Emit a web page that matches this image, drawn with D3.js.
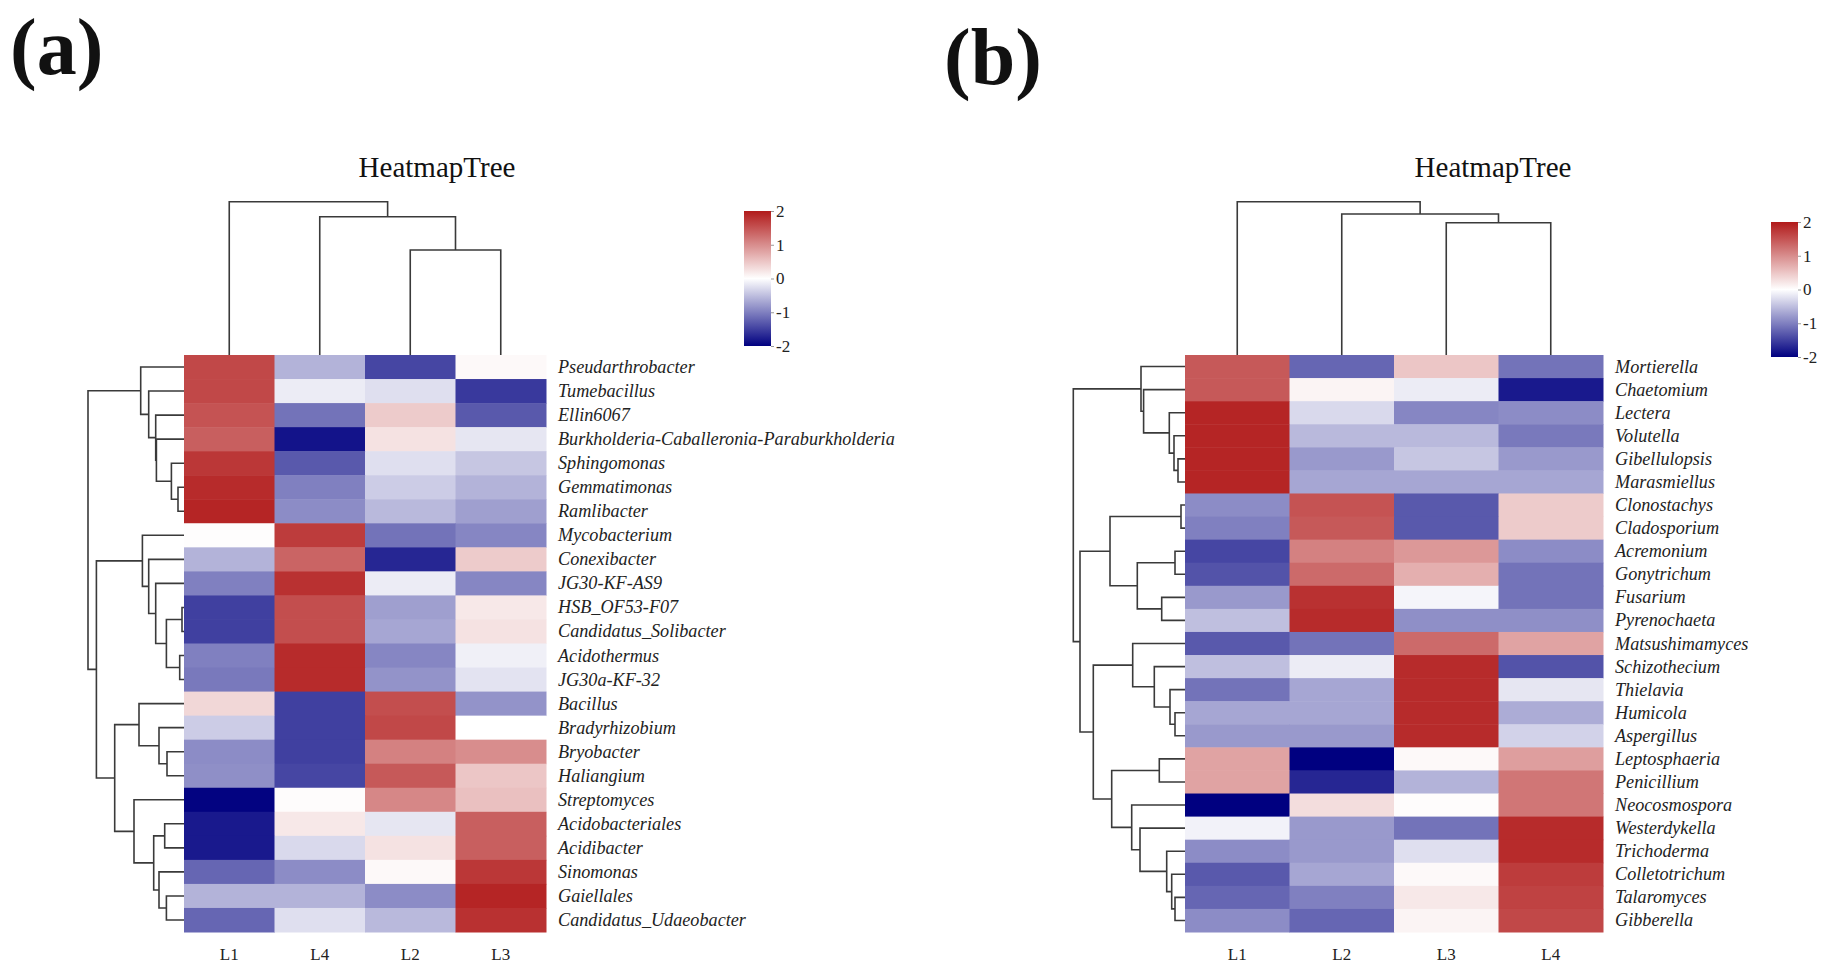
<!DOCTYPE html>
<html>
<head>
<meta charset="utf-8">
<script src="https://cdn.jsdelivr.net/npm/d3@7"></script>
<style>
body { margin: 0; background: #fff; }
text { font-family: "Liberation Serif", "Times New Roman", serif; }
</style>
</head>
<body>
<svg id="chart" width="1831" height="969"></svg>
<script>
// ---- panel (a) bacteria ----
var colsA = ["L1", "L4", "L2", "L3"];
var rowsA = ["Pseudarthrobacter", "Tumebacillus", "Ellin6067", "Burkholderia-Caballeronia-Paraburkholderia",
  "Sphingomonas", "Gemmatimonas", "Ramlibacter", "Mycobacterium", "Conexibacter", "JG30-KF-AS9",
  "HSB_OF53-F07", "Candidatus_Solibacter", "Acidothermus", "JG30a-KF-32", "Bacillus", "Bradyrhizobium",
  "Bryobacter", "Haliangium", "Streptomyces", "Acidobacteriales", "Acidibacter", "Sinomonas",
  "Gaiellales", "Candidatus_Udaeobacter"];
var valuesA = [
  [1.6, -0.6, -1.45, 0.05],
  [1.6, -0.15, -0.25, -1.55],
  [1.5, -1.1, 0.45, -1.3],
  [1.4, -1.85, 0.25, -0.2],
  [1.75, -1.3, -0.25, -0.45],
  [1.85, -1.0, -0.4, -0.6],
  [1.9, -0.9, -0.55, -0.75],
  [0.02, 1.7, -1.1, -0.95],
  [-0.6, 1.35, -1.7, 0.45],
  [-1.0, 1.8, -0.15, -0.95],
  [-1.5, 1.55, -0.75, 0.2],
  [-1.5, 1.55, -0.7, 0.25],
  [-1.0, 1.85, -0.95, -0.12],
  [-1.05, 1.85, -0.85, -0.22],
  [0.35, -1.5, 1.55, -0.85],
  [-0.4, -1.5, 1.6, 0.0],
  [-0.9, -1.5, 1.1, 1.0],
  [-0.88, -1.45, 1.45, 0.5],
  [-1.98, 0.03, 1.05, 0.55],
  [-1.8, 0.2, -0.2, 1.4],
  [-1.8, -0.3, 0.25, 1.4],
  [-1.2, -0.9, 0.05, 1.75],
  [-0.6, -0.6, -0.9, 1.9],
  [-1.2, -0.25, -0.55, 1.8]
];
// trees: [height, left, right], leaves are row / column indexes
var rowTreeA = [9.6,
  [4.33, 0, [3.53, 1, [2.83, 2, [2.76, 3, [1.26, 4, [0.6, 5, 6]]]]]],
  [8.76,
    [4.16, 7, [3.53, 8, [2.83, 9, [1.76, [0.2, 10, 11], [0.43, 12, 13]]]]],
    [6.93,
      [4.5, 14, [2.5, 15, [1.7, 16, 17]]],
      [5.0, 18, [3.03, [1.93, 19, 20], [2.5, 21, [1.76, 22, 23]]]]
    ]
  ]
];
var colTreeA = [15.33, 0, [13.83, 1, [10.5, 2, 3]]];

// ---- panel (b) fungi ----
var colsB = ["L1", "L2", "L3", "L4"];
var rowsB = ["Mortierella", "Chaetomium", "Lectera", "Volutella", "Gibellulopsis", "Marasmiellus",
  "Clonostachys", "Cladosporium", "Acremonium", "Gonytrichum", "Fusarium", "Pyrenochaeta",
  "Matsushimamyces", "Schizothecium", "Thielavia", "Humicola", "Aspergillus", "Leptosphaeria",
  "Penicillium", "Neocosmospora", "Westerdykella", "Trichoderma", "Colletotrichum", "Talaromyces",
  "Gibberella"];
var valuesB = [
  [1.45, -1.2, 0.5, -1.1],
  [1.45, 0.1, -0.15, -1.8],
  [1.9, -0.3, -0.95, -0.9],
  [1.9, -0.55, -0.55, -1.05],
  [1.9, -0.8, -0.45, -0.8],
  [1.9, -0.7, -0.7, -0.7],
  [-0.9, 1.5, -1.3, 0.45],
  [-1.0, 1.45, -1.3, 0.45],
  [-1.45, 1.1, 0.9, -0.9],
  [-1.35, 1.3, 0.7, -1.1],
  [-0.8, 1.8, -0.08, -1.1],
  [-0.5, 1.85, -0.88, -0.88],
  [-1.3, -1.1, 1.3, 0.8],
  [-0.5, -0.15, 1.85, -1.35],
  [-1.1, -0.7, 1.85, -0.2],
  [-0.7, -0.7, 1.85, -0.65],
  [-0.8, -0.8, 1.85, -0.35],
  [0.8, -2.0, 0.05, 0.85],
  [0.8, -1.7, -0.6, 1.2],
  [-2.0, 0.3, 0.03, 1.2],
  [-0.1, -0.8, -1.1, 1.85],
  [-0.9, -0.8, -0.25, 1.85],
  [-1.3, -0.7, 0.05, 1.7],
  [-1.2, -1.0, 0.2, 1.65],
  [-0.9, -1.2, 0.1, 1.6]
];
var rowTreeB = [11.17,
  [4.4, 0, [4.14, 1, [1.57, 2, [1.1, 3, [0.7, 4, 5]]]]],
  [10.5,
    [7.5, [0.4, 6, 7], [4.77, [1.0, 8, 9], [2.33, 10, 11]]],
    [9.17,
      [5.23, 12, [3.07, 13, [1.5, 14, [1.0, 15, 16]]]],
      [7.33, [2.57, 17, 18], [5.33, 19, [4.5, 20, [1.83, 21, [1.33, 22, [1.0, 23, 24]]]]]]
    ]
  ]
];
var colTreeB = [15.33, 0, [14.1, 1, [13.23, 2, 3]]];

var legendTicks = [-2, -1, 0, 1, 2];

var svg = d3.select("#chart");
svg.append("rect").attr("width", 1831).attr("height", 969).attr("fill", "#fff");

var color = d3.scaleLinear()
  .domain([-2, 0, 2])
  .range(["#000080", "#ffffff", "#b11a1a"]);

// gradient for the colour keys
var grad = svg.append("defs").append("linearGradient")
  .attr("id", "keyGrad")
  .attr("x1", 0).attr("y1", 1).attr("x2", 0).attr("y2", 0);
grad.selectAll("stop")
  .data(d3.range(-2, 2.01, 0.25))
  .enter().append("stop")
  .attr("offset", function(d){ return (d + 2) / 4; })
  .attr("stop-color", function(d){ return color(d); });

function dendro(g, tree, leafPos, hScale, vertical) {
  var root = d3.hierarchy(tree, function(d){ return Array.isArray(d) ? [d[1], d[2]] : null; });
  root.eachAfter(function(n){
    if (!n.children) { n.pos = leafPos(n.data); n.h = 0; }
    else { n.pos = d3.mean(n.children, function(c){ return c.pos; }); n.h = n.data[0]; }
  });
  var nodes = root.descendants().filter(function(n){ return n.children; });
  g.selectAll("path")
    .data(nodes)
    .enter().append("path")
    .attr("fill", "none")
    .attr("stroke", "#3a3a3a")
    .attr("stroke-width", 1.6)
    .attr("d", function(n){
      var a = n.children[0], b = n.children[1];
      var h = hScale(n.h);
      if (vertical) {
        return "M" + a.pos + "," + hScale(a.h) + "V" + h + "H" + b.pos + "V" + hScale(b.h);
      }
      return "M" + hScale(a.h) + "," + a.pos + "H" + h + "V" + b.pos + "H" + hScale(b.h);
    });
}

function panel(p) {
  var g = svg.append("g");
  var x = d3.scaleBand().domain(p.cols).range([p.left, p.right]);
  var y = d3.scaleBand().domain(p.rows).range([p.top, p.bottom]);

  var cells = [];
  p.values.forEach(function(row, i){
    row.forEach(function(v, j){ cells.push({ r: p.rows[i], c: p.cols[j], v: v }); });
  });
  g.selectAll(".cell")
    .data(cells)
    .enter().append("rect")
    .attr("class", "cell")
    .attr("x", function(d){ return x(d.c); })
    .attr("y", function(d){ return y(d.r); })
    .attr("width", x.bandwidth() + 0.5)
    .attr("height", y.bandwidth() + 0.5)
    .attr("fill", function(d){ return color(d.v); });

  // row labels
  g.selectAll(".rlab")
    .data(p.rows)
    .enter().append("text")
    .attr("x", p.right + 12)
    .attr("y", function(d){ return y(d) + y.bandwidth() / 2 + 6; })
    .attr("font-size", "18.2px")
    .attr("font-style", "italic")
    .attr("fill", "#222")
    .text(function(d){ return d; });

  // column labels
  g.selectAll(".clab")
    .data(p.cols)
    .enter().append("text")
    .attr("x", function(d){ return x(d) + x.bandwidth() / 2; })
    .attr("y", p.bottom + 28)
    .attr("text-anchor", "middle")
    .attr("font-size", "17px")
    .attr("fill", "#222")
    .text(function(d){ return d; });

  // dendrograms
  var rowH = d3.scaleLinear().domain([0, 10]).range([p.left, p.left - 100]);
  dendro(g.append("g"), p.rowTree, function(i){ return y(p.rows[i]) + y.bandwidth() / 2; }, rowH, false);
  var colH = d3.scaleLinear().domain([0, 10]).range([p.top, p.top - 100]);
  dendro(g.append("g"), p.colTree, function(i){ return x(p.cols[i]) + x.bandwidth() / 2; }, colH, true);

  // title + panel letter
  g.append("text")
    .attr("x", p.titleX).attr("y", 177)
    .attr("text-anchor", "middle")
    .attr("font-size", "29px")
    .attr("fill", "#111")
    .text("HeatmapTree");
  g.append("text")
    .attr("x", p.letterX).attr("y", p.letterY)
    .attr("font-size", "80px")
    .attr("font-weight", "bold")
    .attr("fill", "#111")
    .text(p.letter);

  // colour key
  g.append("rect")
    .attr("x", p.keyX).attr("y", p.keyTop)
    .attr("width", 27).attr("height", p.keyBottom - p.keyTop)
    .attr("fill", "url(#keyGrad)");
  var k = d3.scaleLinear().domain([-2, 2]).range([p.keyBottom, p.keyTop]);
  var ax = g.append("g")
    .attr("transform", "translate(" + (p.keyX + 27) + ",0)")
    .call(d3.axisRight(k).tickValues(legendTicks).tickSize(3).tickPadding(2)
      .tickFormat(function(d){ return String(d); }));
  ax.select(".domain").remove();
  ax.selectAll("line").attr("stroke", "#999");
  ax.selectAll("text")
    .attr("font-family", "Liberation Serif, serif")
    .attr("font-size", "17px")
    .attr("fill", "#222");
}

panel({
  cols: colsA, rows: rowsA, values: valuesA, rowTree: rowTreeA, colTree: colTreeA,
  left: 184, right: 546, top: 355, bottom: 932,
  titleX: 437, letter: "(a)", letterX: 10, letterY: 74,
  keyX: 744, keyTop: 211, keyBottom: 346
});
panel({
  cols: colsB, rows: rowsB, values: valuesB, rowTree: rowTreeB, colTree: colTreeB,
  left: 1185, right: 1603, top: 355, bottom: 932,
  titleX: 1493, letter: "(b)", letterX: 944, letterY: 84,
  keyX: 1771, keyTop: 222, keyBottom: 357
});
</script>
</body>
</html>
